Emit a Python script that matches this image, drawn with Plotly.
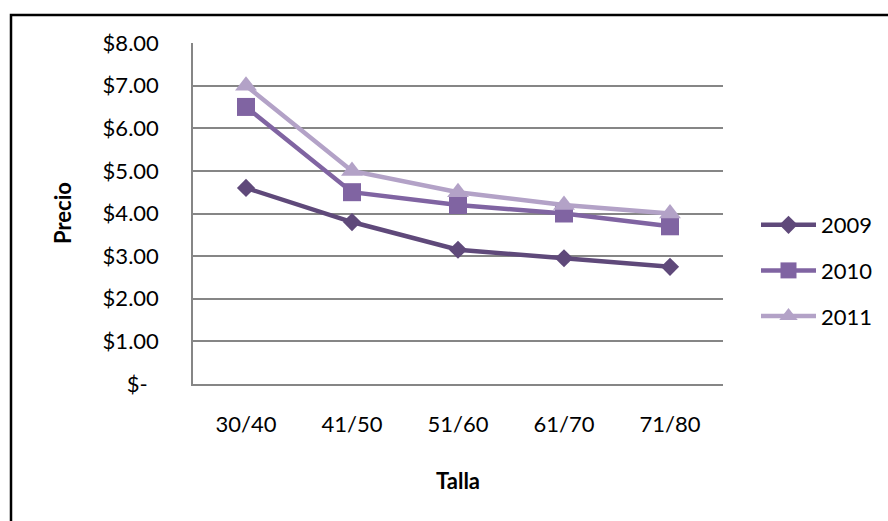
import plotly.graph_objects as go

# Price per size range, three seasons
tallas = ["30/40", "41/50", "51/60", "61/70", "71/80"]
precio_2009 = [4.60, 3.80, 3.15, 2.95, 2.75]
precio_2010 = [6.50, 4.50, 4.20, 4.00, 3.70]
precio_2011 = [7.00, 5.00, 4.50, 4.20, 4.00]

y_ticks = [0, 1, 2, 3, 4, 5, 6, 7, 8]
y_ticktext = ["$-\u00a0\u00a0", "$1.00", "$2.00", "$3.00", "$4.00",
              "$5.00", "$6.00", "$7.00", "$8.00"]

W, H = 888, 521
FONT = "Lato"
GRID = "#868686"

series = [
    ("2009", precio_2009, "#5F497A", "diamond", 14),
    ("2010", precio_2010, "#8064A2", "square", 18),
    ("2011", precio_2011, "#B3A2C7", "triangle-up", 19),
]

fig = go.Figure()
for name, vals, color, symbol, size in series:
    fig.add_trace(go.Scatter(
        x=tallas, y=vals, name=name, mode="lines+markers",
        line=dict(color=color, width=4.5),
        marker=dict(symbol=symbol, size=size, color=color,
                    line=dict(width=0)),
        legendgroup=name,
    ))

# plot area in pixels: x 193..723, y 43..384
x_dom = [193 / W, 723 / W]
y_dom = [(H - 384) / H, (H - 43) / H]

fig.update_layout(
    template="none",
    width=W, height=H,
    margin=dict(l=0, r=0, t=0, b=0),
    paper_bgcolor="white", plot_bgcolor="white",
    font=dict(family=FONT, size=22, color="black"),
    showlegend=True,
    legend=dict(
        x=756 / W, y=(H - 204) / H, xanchor="left", yanchor="top",
        font=dict(family=FONT, size=22, color="black"),
        tracegroupgap=14, itemwidth=55,
        bgcolor="rgba(0,0,0,0)",
    ),
    xaxis=dict(
        domain=x_dom, type="category", range=[-0.5, 4.5], autorange=False,
        automargin=False,
        showgrid=False, showline=True, linecolor=GRID, linewidth=1.5,
        ticks="", ticklabelstandoff=20, mirror=False,
        tickfont=dict(family=FONT, size=22, color="black"),
    ),
    yaxis=dict(
        domain=y_dom, range=[0, 8], autorange=False, automargin=False,
        tickvals=y_ticks, ticktext=y_ticktext,
        showgrid=True, gridcolor=GRID, gridwidth=1.5,
        showline=True, linecolor=GRID, linewidth=1.5,
        zeroline=False, ticks="", ticklabelstandoff=28,
        tickfont=dict(family=FONT, size=22, color="black"),
    ),
    annotations=[
        dict(text="<b>Precio</b>", textangle=-90, xref="paper", yref="paper",
             x=62 / W, y=(H - 213) / H, xanchor="center", yanchor="middle",
             showarrow=False,
             font=dict(family=FONT, size=22, color="black")),
        dict(text="<b>Talla</b>", xref="paper", yref="paper",
             x=458 / W, y=(H - 480) / H, xanchor="center", yanchor="middle",
             showarrow=False,
             font=dict(family=FONT, size=22, color="black")),
    ],
    shapes=[
        # chart frame
        dict(type="rect", xref="paper", yref="paper",
             x0=11 / W, x1=1.05, y0=-0.05, y1=(H - 15) / H,
             line=dict(color="black", width=2.5), fillcolor="rgba(0,0,0,0)",
             layer="below"),
    ],
)

fig.write_html("out.html")
